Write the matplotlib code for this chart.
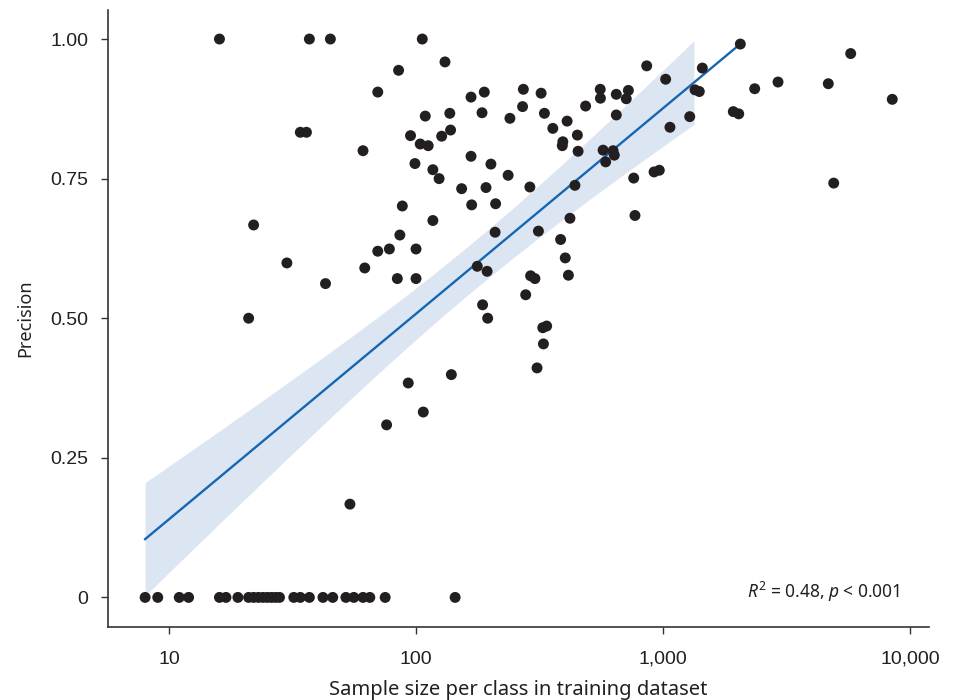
import numpy as np
import matplotlib
matplotlib.use('Agg')
import matplotlib.pyplot as plt

# 训练集中每类样本数 与 精确率
sample_size = [8, 9, 11, 12, 16, 17, 19, 21, 22, 23, 24, 25, 26, 27, 28, 32, 34, 37,
               42, 46, 52, 56, 61, 65, 75, 144,
               16, 37, 45, 106,
               131, 85, 70, 109, 137, 34, 36, 95, 138, 127, 104, 112, 61, 99, 117, 124, 153,
               22, 30, 21, 43, 62, 70, 78, 86, 88, 117, 100, 84, 100, 139, 93, 107, 76, 54,
               167, 189, 272, 321, 185, 240, 270, 331, 486, 557, 558, 647, 724, 710, 647,
               859, 1025, 1443, 1348, 1403, 1283, 1067, 2056, 2351, 2922, 4669, 5754, 8478,
               1926, 2026, 4911, 358, 409, 450, 393, 391, 453, 572, 628, 635, 586, 167, 201,
               236, 192, 289, 440, 761, 920, 966, 168, 210,
               420, 770, 209, 313, 385, 402, 414, 177, 194, 291, 303, 278, 186, 195, 326, 338,
               328, 309]
precision = [0] * 26 + [1.0] * 4 + [
    0.959, 0.944, 0.905, 0.862, 0.867, 0.833, 0.833, 0.827, 0.837, 0.826, 0.812, 0.809,
    0.800, 0.777, 0.766, 0.750, 0.732,
    0.667, 0.599, 0.500, 0.562, 0.590, 0.620, 0.624, 0.649, 0.701, 0.675, 0.624, 0.571,
    0.571, 0.399, 0.384, 0.332, 0.309, 0.167,
    0.896, 0.905, 0.910, 0.903, 0.868, 0.858, 0.879, 0.867, 0.880, 0.910, 0.894, 0.901,
    0.908, 0.893, 0.864, 0.952, 0.928, 0.948, 0.909, 0.906, 0.861, 0.842, 0.991, 0.911,
    0.923, 0.920, 0.974, 0.892, 0.870, 0.866, 0.742, 0.840, 0.853, 0.828, 0.816, 0.809,
    0.799, 0.801, 0.800, 0.792, 0.780, 0.790, 0.776, 0.756, 0.734, 0.735, 0.738, 0.751,
    0.762, 0.765, 0.703, 0.705,
    0.679, 0.684, 0.654, 0.656, 0.641, 0.608, 0.577, 0.593, 0.584, 0.576, 0.571, 0.542,
    0.524, 0.500, 0.483, 0.486, 0.454, 0.411]

x_ticks = [10, 100, 1000, 10000]
x_tick_labels = ['10', '100', '1,000', '10,000']
y_ticks = [0, 0.25, 0.5, 0.75, 1.0]
y_tick_labels = ['0', '0.25', '0.50', '0.75', '1.00']

# 图中回归线: precision = 截距 + 斜率 * log10(样本数)
fit_intercept = -0.228
fit_slope = 0.368
line_max = 2056   # 回归线终点
band_max = 1334   # 置信带终点

plt.rcParams['mathtext.fontset'] = 'custom'
plt.rcParams['mathtext.rm'] = 'Noto Sans'
plt.rcParams['mathtext.it'] = 'Noto Sans:italic'

x = np.array(sample_size, dtype=float)
y = np.array(precision, dtype=float)
lx = np.log10(x)

# 95% 置信带 (残差相对于回归线)
n = len(y)
resid = y - (fit_intercept + fit_slope * lx)
s = np.sqrt(np.sum(resid ** 2) / (n - 2))
mx = lx.mean()
sxx = np.sum((lx - mx) ** 2)

fig = plt.figure(figsize=(9.56, 7.0), dpi=100)
ax = fig.add_axes([108 / 956, 73 / 700, 821 / 956, 617 / 700])

xb = np.linspace(lx.min(), np.log10(band_max), 200)
half = 1.98 * s * np.sqrt(1 / n + (xb - mx) ** 2 / sxx)
yb = fit_intercept + fit_slope * xb
ax.fill_between(10 ** xb, yb - half, yb + half, color='#dbe6f2', lw=0, zorder=1)

xl = np.linspace(lx.min(), np.log10(line_max), 50)
ax.plot(10 ** xl, fit_intercept + fit_slope * xl, color='#1766b3', lw=1.7, zorder=2)

ax.scatter(x, y, s=62, color='#231f20', edgecolors='none', zorder=3)

ax.set_xscale('log')
ax.set_xlim(5.66, 11940)
ax.set_ylim(-0.053, 1.052)
ax.set_xticks(x_ticks)
ax.set_xticklabels(x_tick_labels)
ax.xaxis.set_minor_locator(matplotlib.ticker.NullLocator())
ax.set_yticks(y_ticks)
ax.set_yticklabels(y_tick_labels)

for side in ['top', 'right']:
    ax.spines[side].set_visible(False)
for side in ['left', 'bottom']:
    ax.spines[side].set_color('#333333')
    ax.spines[side].set_linewidth(1.2)
ax.tick_params(length=5, width=1, color='#333333', labelsize=14, labelcolor='#231f20')
ax.tick_params(axis='x', pad=12)
ax.tick_params(axis='y', pad=9)
for lab in ax.get_xticklabels() + ax.get_yticklabels():
    lab.set_family('Liberation Sans')

ax.set_xlabel('Sample size per class in training dataset', family='Noto Sans',
              fontsize=14.5, color='#231f20', labelpad=9)
ax.set_ylabel('Precision', family='Noto Sans', fontsize=13, color='#231f20', labelpad=12)

ax.text(0.965, 0.057, r'$\mathit{R}^2$ = 0.48, $\mathit{p}$ < 0.001', transform=ax.transAxes,
        ha='right', va='center', fontsize=12.5, family='Noto Sans', color='#231f20')

fig.savefig('out.png', dpi=100)
